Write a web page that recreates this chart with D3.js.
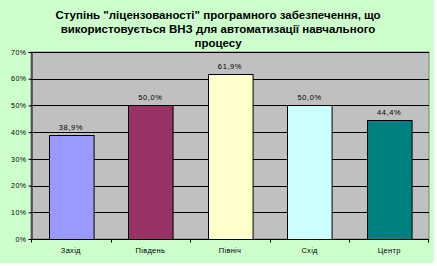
<!DOCTYPE html>
<html>
<head>
<meta charset="utf-8">
<script src="https://cdn.jsdelivr.net/npm/d3@7"></script>
<style>
    body { margin: 0; background: #fff; }
    svg { display: block; }
</style>
</head>
<body>
<div class="chart"></div>
<script>
const regions = ["Захід", "Південь", "Північ", "Схід", "Центр"]
const values = [38.9, 50.0, 61.9, 50.0, 44.4]
const barColors = ["#9999ff", "#993366", "#ffffcc", "#ccffff", "#008080"]
const yTicks = [0, 10, 20, 30, 40, 50, 60, 70]
const titleLines = [
    "Ступінь \"ліцензованості\" програмного забезпечення, що",
    "використовується ВНЗ для автоматизації навчального",
    "процесу"
]

const margin = { top: 52, right: 8, bottom: 27, left: 31 }
const width = 437 - margin.left - margin.right
const height = 266 - margin.top - margin.bottom

const svg = d3.select(".chart")
    .append("svg")
    .attr("width", 437)
    .attr("height", 266)

// chart area background
svg.append("rect")
    .attr("width", 434)
    .attr("height", 263)
    .attr("fill", "#ccffcc")

const g = svg.append("g")
    .attr("transform", `translate(${margin.left}, ${margin.top})`)

const x = d3.scaleBand().domain(regions).range([0, width]).paddingInner(0.44).paddingOuter(0.22)
const y = d3.scaleLinear().domain([0, 70]).range([height, 0])
const band = d3.scaleBand().domain(regions).range([0, width])

//plot area
g.append("rect")
    .attr("width", width)
    .attr("height", height)
    .attr("fill", "#c0c0c0")
    .attr("stroke", "#808080")
    .attr("stroke-width", 1)

// gridlines
g.selectAll(".grid")
    .data(yTicks.slice(1))
    .join("line")
    .attr("x1", 0)
    .attr("x2", width)
    .attr("y1", d => Math.round(y(d)) + 0.5)
    .attr("y2", d => Math.round(y(d)) + 0.5)
    .attr("stroke", "#000")
    .attr("stroke-width", 1)

// bars
g.selectAll(".bar")
    .data(values)
    .join("rect")
    .attr("x", (d, i) => Math.round(x(regions[i])) + 0.5)
    .attr("y", d => Math.round(y(d)) + 0.5)
    .attr("width", x.bandwidth())
    .attr("height", d => height - Math.round(y(d)))
    .attr("fill", (d, i) => barColors[i])
    .attr("stroke", "#000")
    .attr("stroke-width", 1)

// value labels
g.selectAll(".val")
    .data(values)
    .join("text")
    .attr("x", (d, i) => x(regions[i]) + x.bandwidth() / 2)
    .attr("y", d => y(d) - 5)
    .attr("text-anchor", "middle")
    .style("font-family", "Arial, 'Liberation Sans', sans-serif")
    .style("font-size", "7.5px")
    .style("letter-spacing", "0.6px")
    .text(d => d.toFixed(1).replace(".", ",") + "%")

// y axis
g.append("g")
    .attr("transform", "translate(0.5, 0)")
    .call(d3.axisLeft(y)
        .tickValues(yTicks)
        .tickFormat(d => d + "%")
        .tickSize(3)
        .tickPadding(2))
    .call(ax => ax.select(".domain").attr("stroke", "#000"))
    .selectAll(".tick text")
    .style("font-family", "Arial, 'Liberation Sans', sans-serif")
    .style("font-size", "7px")
    .style("letter-spacing", "0.5px")
    .attr("fill", "#000")

// x axis
const xAxis = g.append("g")
    .attr("transform", `translate(0, ${height + 0.5})`)
xAxis.append("line")
    .attr("x1", 0).attr("x2", width)
    .attr("stroke", "#000")
xAxis.selectAll(".xtick")
    .data(regions.concat(["end"]))
    .join("line")
    .attr("x1", (d, i) => i < regions.length ? Math.round(band(d)) + 0.5 : width - 0.5)
    .attr("x2", (d, i) => i < regions.length ? Math.round(band(d)) + 0.5 : width - 0.5)
    .attr("y1", 0)
    .attr("y2", 3)
    .attr("stroke", "#000")
xAxis.selectAll(".xlab")
    .data(regions)
    .join("text")
    .attr("x", d => band(d) + band.bandwidth() / 2)
    .attr("y", 13)
    .attr("text-anchor", "middle")
    .style("font-family", "Arial, 'Liberation Sans', sans-serif")
    .style("font-size", "7.5px")
    .style("letter-spacing", "0.3px")
    .text(d => d)

//add the chart title
svg.append("text")
    .attr("text-anchor", "middle")
    .style("font-family", "Arial, 'Liberation Sans', sans-serif")
    .style("font-size", "11.5px")
    .style("font-weight", "bold")
    .selectAll("tspan")
    .data(titleLines)
    .join("tspan")
    .attr("x", 218)
    .attr("y", (d, i) => 19 + i * 14)
    .text(d => d)
</script>
</body>
</html>
